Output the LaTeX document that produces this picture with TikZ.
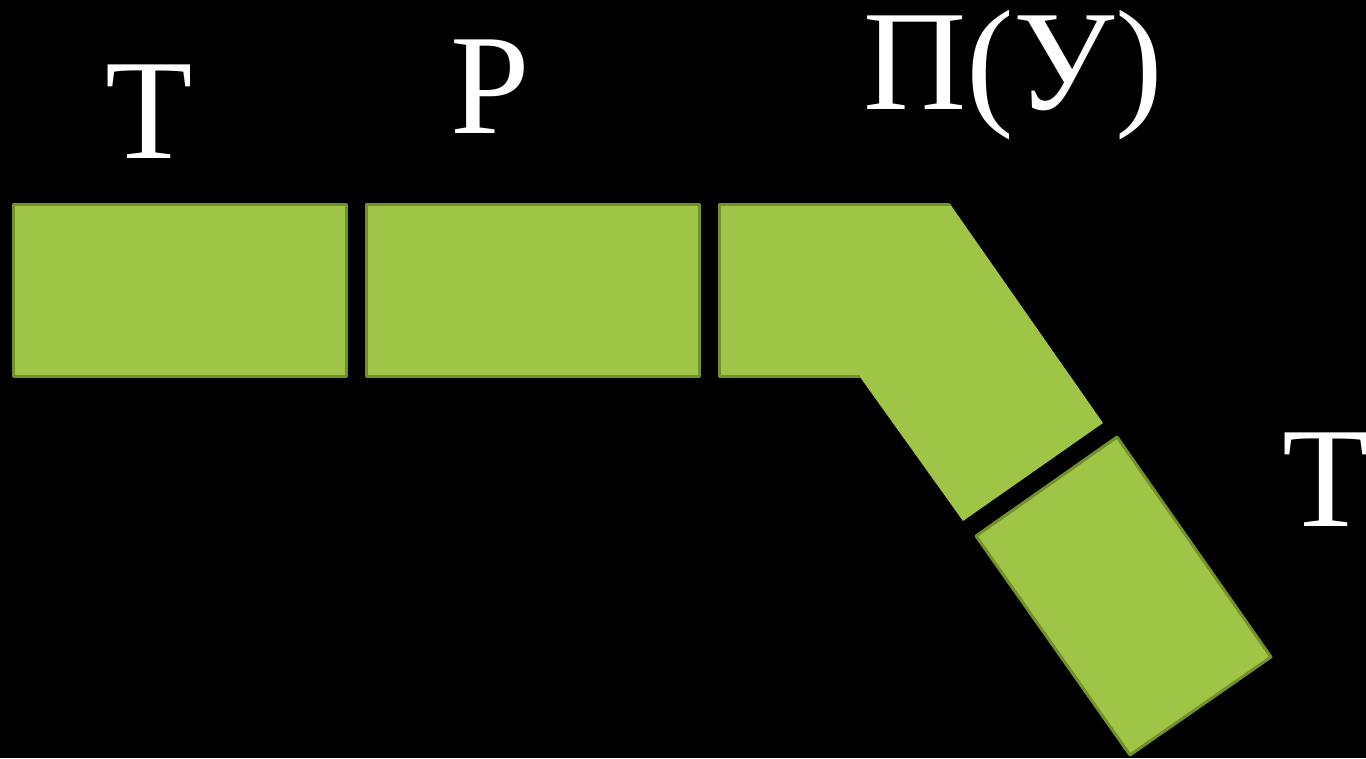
\documentclass[tikz,border=0pt]{standalone}
\usepackage{fontspec}
\setmainfont{Liberation Serif}
\definecolor{leaf}{RGB}{159,197,70}
\definecolor{leafdark}{RGB}{114,145,42}
\tikzset{
  seg/.style={fill=leaf, draw=leafdark, line width=3pt, line join=round},
  lbl/.style={text=white, inner sep=0pt, anchor=base, font=\fontsize{143}{143}\selectfont}
}
\begin{document}
\begin{tikzpicture}[x=1pt,y=-1pt]
\fill[black] (0,0) rectangle (1366,758);
\useasboundingbox (0,0) rectangle (1366,758);
% straight segments
\draw[seg] (13,204) rectangle (346,376);
\draw[seg] (366,204) rectangle (699,376);
% bent segment
\fill[leaf] (718,204) -- (950,204) -- (1103,423) -- (963,521) -- (860,377) -- (718,377) -- cycle;
\draw[leafdark, line width=3pt, line join=round] (950,204) -- (719,204) -- (719,376) -- (860,376);
% tilted segment
\draw[seg] (1117,437) -- (1271,657) -- (1130,755) -- (976,536) -- cycle;
% labels
\node[lbl] (t1) at (149,158) {Т};
\node[lbl] (p) at (490,133) {Р};
\node[lbl] (pu) at (1013,109) {П(У)};
\node[lbl] (t2) at (1326,526) {Т};
\end{tikzpicture}
\end{document}
